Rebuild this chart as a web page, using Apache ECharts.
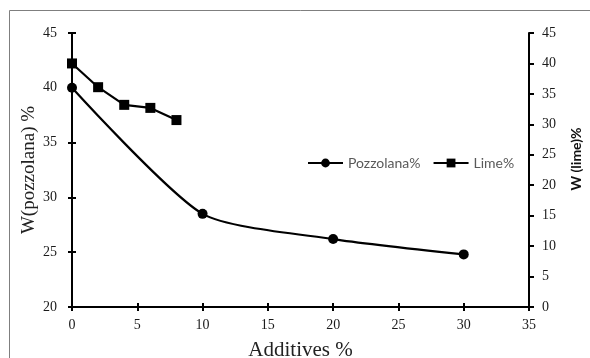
<!DOCTYPE html>
<html>
<head>
<meta charset="utf-8">
<script src="https://cdn.jsdelivr.net/npm/echarts@6/dist/echarts.min.js"></script>
<style>html,body{margin:0;padding:0;background:#fff;overflow:hidden}#c{width:590px;height:358px}</style>
</head>
<body>
<div id="c"></div>
<script>
var pozzolanaX = [0, 10, 20, 30];
var pozzolanaY = [40, 28.5, 26.2, 24.8];
var limeX = [0, 2, 4, 6, 8];
var limeY = [40.0, 36.1, 33.2, 32.7, 30.7];
var seriesNames = ['Pozzolana%', 'Lime%'];
var xTitle = 'Additives %';
var yLeftTitle = 'W(pozzolana) %';
var yRightTitle = 'W (lime)%';

function pairs(xs, ys) { return xs.map(function (x, i) { return [x, ys[i]]; }); }

var serif = 'Liberation Serif, Times New Roman, serif';
var sans = 'Lato, Open Sans, sans-serif';
var chart = echarts.init(document.getElementById('c'), null, { renderer: 'canvas', width: 590, height: 358 });
var axisLine = { show: true, onZero: false, lineStyle: { color: '#000', width: 2 } };
var tickLbl = { color: '#1a1a1a', fontFamily: serif, fontSize: 14 };
chart.setOption({
  animation: false,
  graphic: [{
    type: 'rect', left: 7, top: 8, silent: true,
    shape: { width: 600, height: 370 },
    style: { fill: 'none', stroke: '#7f7f7f', lineWidth: 1 }
  }],
  grid: { left: 72, right: 61, top: 33, bottom: 51, containLabel: false, outerBoundsMode: 'none' },
  legend: {
    left: 307, top: 156, padding: 0,
    itemWidth: 35, itemHeight: 11, itemGap: 12,
    textStyle: { color: '#595959', fontFamily: sans, fontSize: 14 },
    data: seriesNames
  },
  xAxis: [{
    type: 'value', min: 0, max: 35, interval: 5,
    axisLine: axisLine,
    axisTick: { show: true, inside: false, length: 4, lineStyle: { color: '#000', width: 2 } },
    axisLabel: Object.assign({ margin: 11 }, tickLbl),
    splitLine: { show: false },
    name: xTitle, nameLocation: 'middle', nameGap: 33,
    nameTextStyle: { color: '#222', fontFamily: serif, fontSize: 21 }
  }, {
    type: 'value', min: 0, max: 35, interval: 5, position: 'bottom',
    axisLine: { show: false },
    axisTick: { show: true, inside: true, length: 4, lineStyle: { color: '#000', width: 2 } },
    axisLabel: { show: false }, splitLine: { show: false }
  }],
  yAxis: [{
    type: 'value', min: 20, max: 45, interval: 5, position: 'left',
    axisLine: axisLine,
    axisTick: { show: true, inside: false, length: 4, lineStyle: { color: '#000', width: 2 } },
    axisLabel: Object.assign({ margin: 15 }, tickLbl),
    splitLine: { show: false },
    name: yLeftTitle, nameLocation: 'middle', nameGap: 33, nameRotate: 90, nameMoveOverlap: false,
    nameTextStyle: { color: '#222', fontFamily: serif, fontSize: 19 }
  }, {
    type: 'value', min: 0, max: 45, interval: 5, position: 'right',
    axisLine: axisLine,
    axisTick: { show: true, inside: false, length: 5, lineStyle: { color: '#000', width: 2 } },
    axisLabel: Object.assign({ margin: 13 }, tickLbl),
    splitLine: { show: false },
    name: yRightTitle, nameLocation: 'middle', nameGap: 40, nameRotate: 90,
    nameTextStyle: { color: '#111', fontFamily: sans, fontSize: 14, fontWeight: 'bold', padding: [0, 0, 0, 22] }
  }, {
    type: 'value', min: 20, max: 45, interval: 5, position: 'left',
    axisLine: { show: false },
    axisTick: { show: true, inside: true, length: 4, lineStyle: { color: '#000', width: 2 } },
    axisLabel: { show: false }, splitLine: { show: false }
  }],
  series: [{
    name: seriesNames[0], type: 'line', xAxisIndex: 0, yAxisIndex: 0,
    data: pairs(pozzolanaX, pozzolanaY), smooth: 0.22,
    symbol: 'circle', symbolSize: 10,
    lineStyle: { color: '#000', width: 2.2 }, itemStyle: { color: '#000' }
  }, {
    name: seriesNames[1], type: 'line', xAxisIndex: 0, yAxisIndex: 1,
    data: pairs(limeX, limeY),
    symbol: 'rect', symbolSize: 10,
    lineStyle: { color: '#000', width: 2.2 }, itemStyle: { color: '#000' }
  }]
});
</script>
</body>
</html>
